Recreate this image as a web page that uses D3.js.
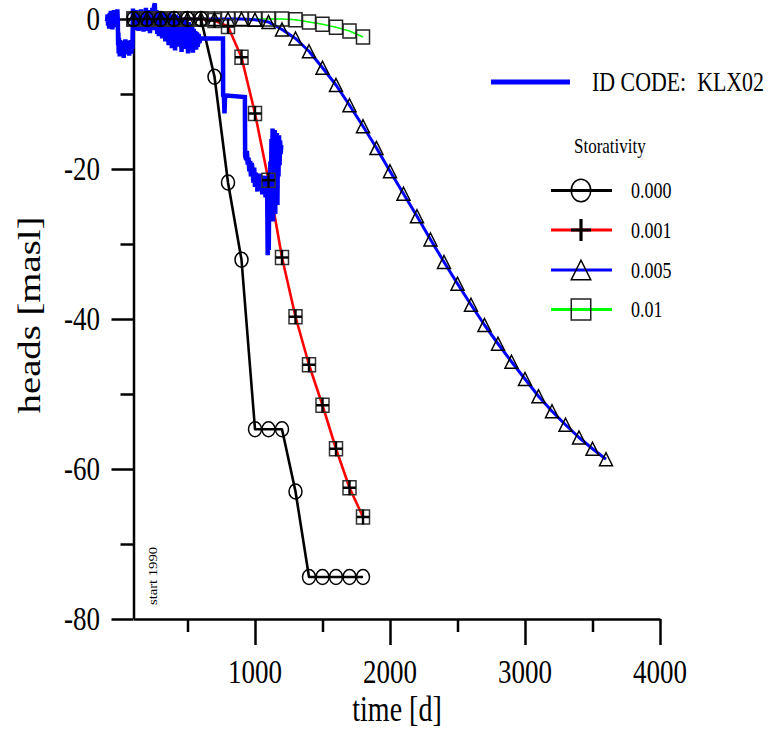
<!DOCTYPE html>
<html><head><meta charset="utf-8">
<script src="https://cdn.jsdelivr.net/npm/d3@7/dist/d3.min.js"></script>
<style>
body{margin:0;background:#fff}
svg{display:block}
</style>
</head><body>
<svg id="chart" width="772" height="729"></svg>
<script>
// ---------- data ----------
const simTimes = [100,200,300,400,500,600,700,800,900,1000,1100,1200,1300,1400,1500,1600,1700,1800];
const s000 = [0,0,0,0,0,0,-7.7,-21.8,-32.1,-54.7,-54.7,-54.7,-63.0,-74.4,-74.4,-74.4,-74.4,-74.4];
const s001 = [0,0,0,0,0,0,-0.2,-1.0,-5.1,-12.6,-21.5,-31.8,-39.7,-46.1,-51.5,-57.3,-62.5,-66.4];
const s01  = [0,0,0,0,0,0,0,0,0,0,0,0,-0.1,-0.4,-0.7,-1.1,-1.6,-2.4];
const s005Times = [100,200,300,400,500,600,700,800,900,1000,1100,1200,1300,1400,1500,1600,1700,1800,
  1900,2000,2100,2200,2300,2400,2500,2600,2700,2800,2900,3000,3100,3200,3300,3400,3500,3600];
const s005 = [0,0,0,0,0,0,0,0,0,-0.1,-0.4,-1.4,-2.6,-4.3,-6.5,-8.8,-11.5,-14.3,
  -17.2,-20.3,-23.3,-26.3,-29.4,-32.4,-35.3,-38.1,-40.8,-43.3,-45.7,-48.0,-50.3,-52.3,-54.1,-55.8,-57.3,-58.7];

// measured heads, borehole KLX02 (rows of 10)
const measuredTime = [
  -96,-92,-88,-84,-80,-76,-72,-68,-64,-60,
  -56,-52,-48,-44,-40,-36,-32,-28,-24,-20,
  -16,
  -14,-12,-10,-8,-6,-4,-2,0,4,8,
  12,16,20,24,28,32,36,40,44,48,
  52,56,60,64,68,72,76,80,84,88,
  92,
  96,102,108,114,120,126,132,138,144,150,
  156,162,168,174,180,186,192,198,204,210,
  216,222,228,234,240,246,252,258,264,270,
  276,282,288,294,300,306,312,318,324,330,
  336,342,348,354,360,366,372,378,384,390,
  396,402,408,414,420,426,432,438,444,450,
  456,462,468,474,480,486,492,498,504,510,
  516,522,528,534,540,546,552,558,564,570,
  576,582,588,
  594,763,764,770,774,778,790,925,927,935,
  940,946,952,958,964,970,976,982,988,994,
  1000,1006,1012,1018,1024,1030,1036,1042,1048,1054,
  1060,1066,1072,1078,1084,1090,1094,1098,1102,1106,
  1110,1114,1118,1122,1126,1130,1134,1138,1142,1146,
  1150,1154,1158,1162,1166,1170,1174,1178,1182,1186,
  1190,1195];
const measuredHead = [
  -0.3,0.6,-0.9,0.4,-1.3,0.8,-0.6,1.1,-1.0,0.3,
  -1.4,0.9,-0.5,1.2,-0.8,0.2,-1.1,0.7,-0.4,1.3,
  -0.2,
  -3.5,-1.8,-4.6,-2.5,-4.2,-3.0,-5.0,-2.8,-4.4,-3.2,
  -4.8,-2.9,-4.1,-3.4,-5.2,-3.0,-4.3,-2.7,-4.7,-3.3,
  -4.0,-2.9,-4.5,-3.6,-4.9,-3.1,-4.2,-2.8,-4.6,-3.4,
  -4.0,
  1.4,-1.2,1.0,-1.5,1.2,-1.0,1.1,-1.6,0.8,-1.2,
  1.3,-1.4,0.9,-1.7,1.1,-1.1,1.5,-1.6,0.8,-1.3,
  1.2,-1.9,1.0,-1.2,1.5,-1.5,1.7,2.1,-1.4,1.2,
  -2.0,0.9,-2.3,1.0,-1.7,0.8,-2.6,1.0,-2.0,0.6,
  -3.0,0.7,-2.4,0.4,-3.5,0.8,-2.8,0.3,-3.9,0.5,
  -3.2,0.0,-4.2,0.6,-2.9,-0.3,-3.7,0.4,-3.4,-0.2,
  -4.4,0.1,-3.2,-0.6,-4.0,-0.1,-3.6,-0.8,-4.6,-0.4,
  -3.5,-1.0,-4.2,-0.7,-4.5,-1.3,-3.8,-1.6,-4.1,-1.8,
  -3.7,-2.0,-3.2,
  -2.6,-2.6,-10.2,-10.3,-12.6,-10.4,-10.2,-10.4,-18.3,-18.8,
  -17.6,-19.4,-18.5,-20.3,-18.9,-21.0,-19.2,-20.1,-21.8,-19.8,
  -22.4,-20.5,-21.2,-23.0,-20.8,-21.9,-20.6,-22.7,-21.0,-23.4,
  -21.3,-22.1,-20.9,-23.8,-21.6,-22.5,-31.5,-21.0,-30.8,-20.5,
  -26.5,-19.0,-24.0,-16.0,-25.5,-14.6,-27.0,-15.5,-23.5,-14.8,
  -26.0,-16.5,-22.0,-15.2,-24.8,-16.8,-21.0,-15.5,-19.5,-16.2,
  -18.0,-16.8];

const xMajorTicks = [1000,2000,3000,4000];
const xMinorTicks = [500,1500,2500,3500];
const yMajorTicks = [0,-20,-40,-60,-80];
const yMinorTicks = [-10,-30,-50,-70];
const legendTitle = "Storativity";
const legendLabels = ["0.000","0.001","0.005","0.01"];
const measuredLabel = "ID CODE:  KLX02";

const FONT = "'Liberation Serif', 'DejaVu Serif', serif";
const SY = 1.25; // vertical stretch of the original's lettering

// ---------- layout ----------
const svg = d3.select("#chart").attr("font-family", FONT);
const x = d3.scaleLinear().domain([100,4000]).range([133.5,660]);
const y = d3.scaleLinear().domain([0,-80]).range([19,619]);

function label(g, cx, cy, str, size, anchor, sy){
  sy = sy || SY;
  return g.append("text")
    .attr("transform",`translate(${cx},${cy + 0.34*size*sy}) scale(1,${sy})`)
    .attr("text-anchor",anchor||"start").style("font-size",size+"px")
    .style("white-space","pre").text(str);
}

// axes
const gx = svg.append("g").attr("transform",`translate(0,${y(-80)})`);
gx.call(d3.axisBottom(x).tickValues(xMinorTicks).tickSize(13).tickSizeOuter(0).tickFormat(""));
gx.call(g=>g.select(".domain").remove());
const gx2 = svg.append("g").attr("transform",`translate(0,${y(-80)})`);
gx2.call(d3.axisBottom(x).tickValues(xMajorTicks).tickSize(26).tickSizeOuter(0).tickFormat(""));

const gy = svg.append("g").attr("transform",`translate(${x(100)},0)`);
gy.call(d3.axisLeft(y).tickValues(yMinorTicks).tickSize(13).tickSizeOuter(0).tickFormat(""));
gy.call(g=>g.select(".domain").remove());
const gy2 = svg.append("g").attr("transform",`translate(${x(100)},0)`);
gy2.call(d3.axisLeft(y).tickValues(yMajorTicks).tickSize(22).tickSizeOuter(0).tickFormat(""));

svg.selectAll(".domain, .tick line").attr("stroke","#000").attr("stroke-width",2.5);
svg.selectAll(".tick text").remove();

const tl = svg.append("g");
xMajorTicks.forEach(t=>label(tl, x(t), 672, String(t), 27, "middle"));
yMajorTicks.forEach(v=>label(tl, 100, y(v), String(v), 27, "end"));

// axis titles
label(svg, 397, 709, "time [d]", 28, "middle");
svg.append("text").attr("transform","translate(40,315) rotate(-90) scale(1.25,1)")
  .attr("text-anchor","middle").style("font-size","31px").text("heads [masl]");
svg.append("text").attr("transform","translate(157,605) rotate(-90)").style("font-size","13px")
  .attr("textLength",58).attr("lengthAdjust","spacingAndGlyphs").text("start 1990");

// ---------- series ----------
const line = d3.line().x(d=>x(d[0])).y(d=>y(d[1]));
const pts = (ts,vs)=>ts.map((t,i)=>[t,vs[i]]);

const series = [
  {name:legendLabels[3], data:pts(simTimes,s01), color:"#00ff00", width:1.6, marker:"square"},
  {name:legendLabels[2], data:pts(s005Times,s005), color:"#0000ff", width:3, marker:"triangle"},
  {name:legendLabels[1], data:pts(simTimes,s001), color:"#ff0000", width:2.6, marker:"plussq"},
  {name:legendLabels[0], data:pts(simTimes,s000), color:"#000000", width:2.6, marker:"circle"}
];

series.forEach(s=>{
  svg.append("path").datum(s.data).attr("d",line).attr("fill","none")
    .attr("stroke",s.color).attr("stroke-width",s.width).attr("stroke-linejoin","round");
});

// measured
svg.append("path").datum(pts(measuredTime,measuredHead))
  .attr("d",line).attr("fill","none").attr("stroke","#0000ff").attr("stroke-width",4.5)
  .attr("stroke-linejoin","miter").attr("stroke-miterlimit",3);

function drawMarker(g, type, cx, cy, big){
  const k = big ? 1.5 : 1;
  if(type==="circle"){
    g.append("ellipse").attr("cx",cx).attr("cy",cy).attr("rx",6.5*k).attr("ry",7.5*k)
      .attr("fill","none").attr("stroke","#000").attr("stroke-width",1.5);
  } else if(type==="triangle"){
    const w=6.5*k, h=6.5*k;
    g.append("path").attr("d",`M${cx},${cy-h}L${cx+w},${cy+h}L${cx-w},${cy+h}Z`)
      .attr("fill","none").attr("stroke","#000").attr("stroke-width",1.5);
  } else if(type==="square"){
    g.append("rect").attr("x",cx-6.5*k).attr("y",cy-7*k).attr("width",13*k).attr("height",14*k)
      .attr("fill","none").attr("stroke","#222").attr("stroke-width",1.5);
  } else if(type==="plus" || type==="plussq"){
    if(type==="plussq" && !big){
      g.append("rect").attr("x",cx-6.5).attr("y",cy-7).attr("width",13).attr("height",14)
        .attr("fill","none").attr("stroke","#333").attr("stroke-width",1.5);
    }
    const a = big ? 10 : 6.5;
    g.append("path").attr("d",`M${cx-a},${cy}H${cx+a}M${cx},${cy-a-1}V${cy+a+1}`)
      .attr("fill","none").attr("stroke","#000").attr("stroke-width",big?3.2:2.4);
  }
}

const mk = svg.append("g");
series.forEach(s=>{
  s.data.forEach(d=>drawMarker(mk, s.marker, x(d[0]), y(d[1]), false));
});

// ---------- legend ----------
svg.append("line").attr("x1",491).attr("x2",570).attr("y1",82).attr("y2",82)
  .attr("stroke","#0000ff").attr("stroke-width",5);
label(svg, 592, 82, measuredLabel, 23, "start", 1.15)
  .attr("textLength",172).attr("lengthAdjust","spacingAndGlyphs");
label(svg, 574, 146, legendTitle, 17, "start");

const legendOrder = [series[3],series[2],series[1],series[0]];
const legendY = [190.5,230,270,309.5];
legendOrder.forEach((s,i)=>{
  const ly = legendY[i];
  svg.append("line").attr("x1",551).attr("x2",612).attr("y1",ly).attr("y2",ly)
    .attr("stroke",s.color).attr("stroke-width",3);
  drawMarker(svg, s.marker==="plussq"?"plus":s.marker, 581, ly, true);
  label(svg, 631, ly, s.name, 18, "start");
});
</script>
</body></html>
